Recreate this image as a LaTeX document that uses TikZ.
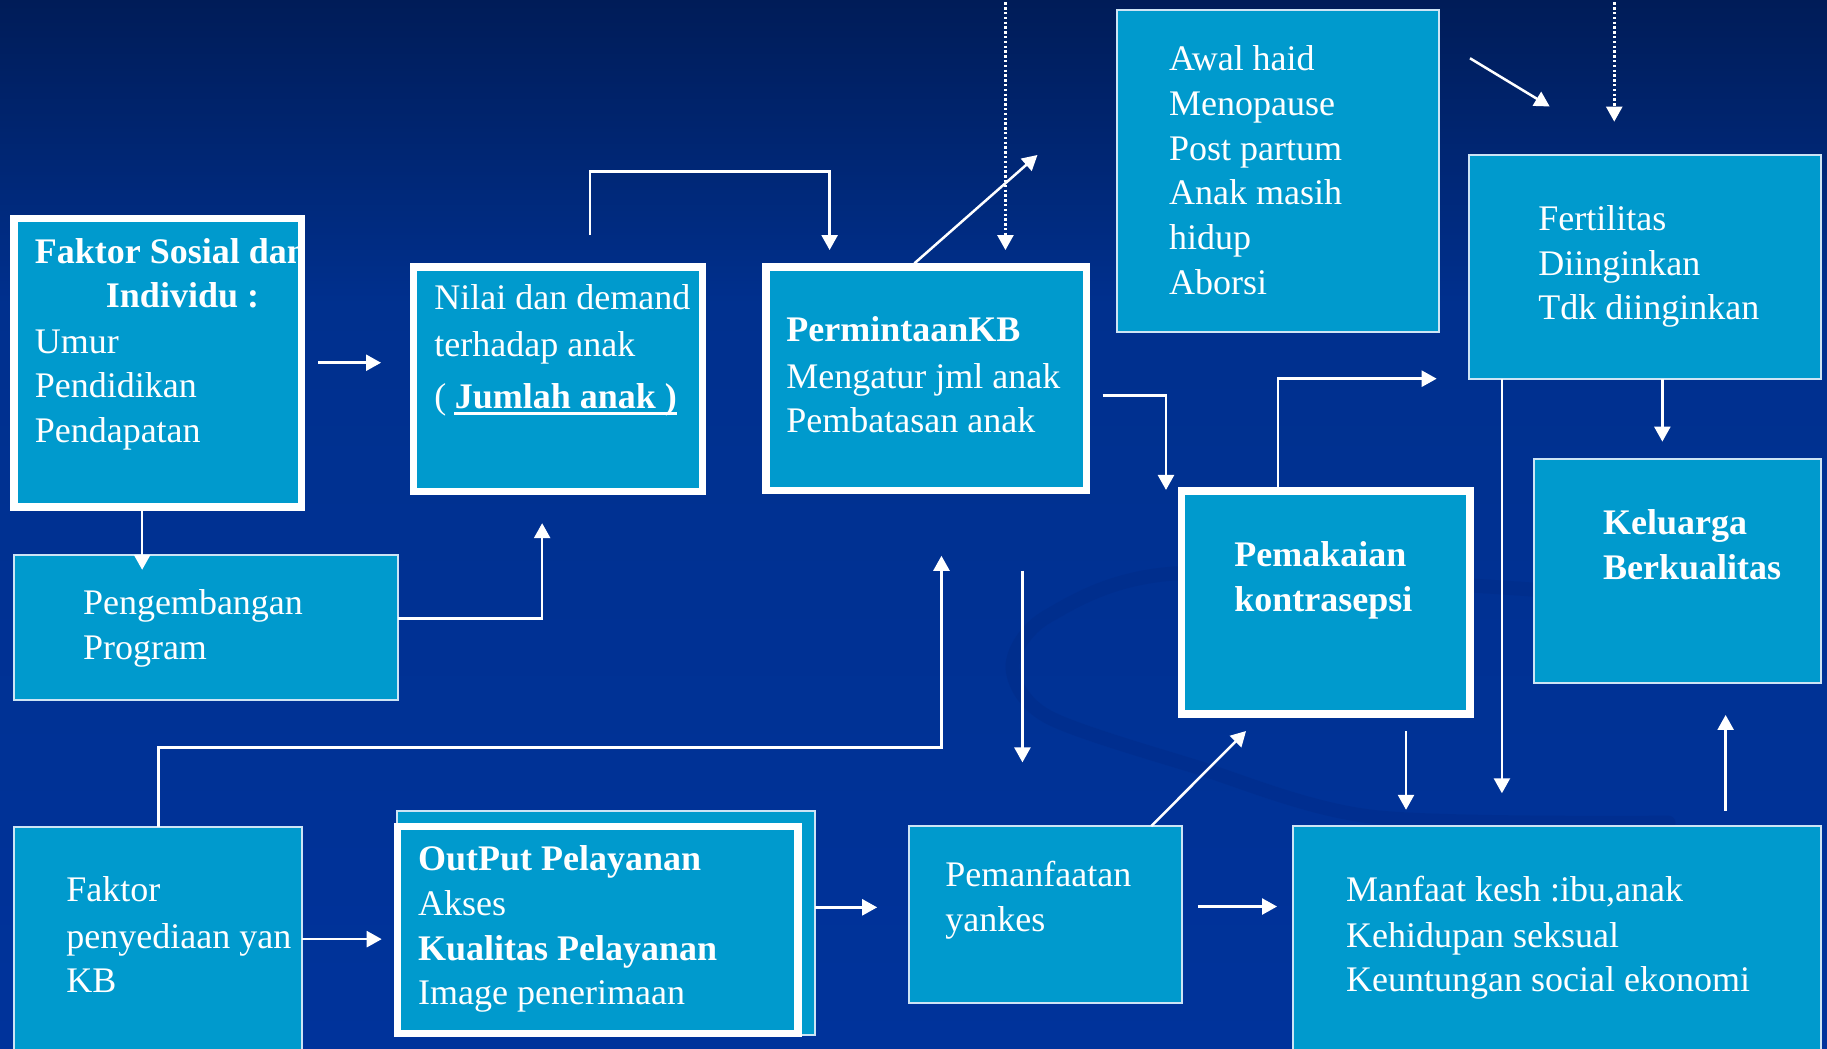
\documentclass[tikz,border=0pt]{standalone}
\usepackage{fontspec}
\setmainfont{Liberation Serif}
\usetikzlibrary{arrows.meta,calc}
\definecolor{bgtop}{RGB}{0,28,88}
\definecolor{bgmid}{RGB}{0,48,142}
\definecolor{bgbot}{RGB}{0,51,155}
\definecolor{boxfill}{RGB}{0,154,205}
\definecolor{thinline}{RGB}{205,228,245}
\definecolor{swooshc}{RGB}{0,36,120}
\begin{document}
\begin{tikzpicture}[x=0.5826pt,y=-0.5826pt,
  boxbase/.style={fill=boxfill, anchor=north west, inner sep=0pt, outer sep=0pt},
  thickbox/.style={boxbase, draw=white, line width=3.75pt},
  thinbox/.style={boxbase, draw=thinline, line width=1pt},
  sz/.style 2 args={minimum width=#1*0.5826pt, minimum height=#2*0.5826pt},
  txt/.style={text=white, anchor=base west, inner sep=0pt, font=\fontsize{18}{22.4}\selectfont},
  btxt/.style={txt, font=\fontsize{18}{22.4}\selectfont\bfseries},
  conn/.style={draw=white, line width=1.25pt},
  arr/.style={conn, -{Triangle[length=7.5pt,width=8pt]}},
  dotarr/.style={arr, dash pattern=on 1.2pt off 1.2pt},
]
\useasboundingbox (0,0) rectangle (1568,900);
\clip (0,0) rectangle (1568,900);
% background
\shade[top color=bgtop, bottom color=bgmid] (0,0) rectangle (1568,260);
\shade[top color=bgmid, bottom color=bgbot] (0,259) rectangle (1568,900);
\draw[swooshc, line width=7pt, opacity=0.22, line cap=round]
  plot[smooth] coordinates {(1316,506) (1011,492) (899,529) (869,572) (899,615) (1026,658) (1178,701) (1432,706)};

% boxes
\node[boxbase, sz={246.6}{247.6}] (fs) at (12,187.7) {};
\node[thickbox, sz={247.7}{192.6}] (nl) at (355,229) {};
\node[thickbox, sz={275.1}{192}] (pm) at (657.2,229) {};
\node[thickbox, sz={247.3}{191.6}] (pk) at (1014.2,421.2) {};
\node[thinbox, sz={276.4}{276.4}] (aw) at (958.6,8.6) {};
\node[thinbox, sz={302}{192}] (ft) at (1261,133) {};
\node[thinbox, sz={246}{192}] (kl) at (1316.5,394) {};
\node[thinbox, sz={330.2}{124.4}] (pg) at (11.8,476.3) {};
\node[thinbox, sz={247.8}{200}] (fp) at (11.8,709.5) {};
\node[thinbox, sz={358.8}{192}] (opb) at (340.7,696) {};
\node[thickbox, sz={343.8}{177.3}] (op) at (341.2,709.5) {};
\node[thinbox, sz={234.6}{151.5}] (pf) at (780,709) {};
\node[thinbox, sz={453}{200}] (mf) at (1110,709) {};

% Faktor Sosial text (clipped by its box)
\begin{scope}
\clip (fs.north west) rectangle (fs.south east);
\node[btxt] (fs1) at (29.5,226) {Faktor Sosial dan};
\node[btxt] (fs2) at (90.6,264) {Individu :};
\node[txt] (fs3) at (29.5,303) {Umur};
\node[txt] (fs4) at (29.5,341) {Pendidikan};
\node[txt] (fs5) at (29.5,380) {Pendapatan};
\end{scope}
\draw[white, line width=3.75pt] (fs.north west) rectangle (fs.south east);

% Nilai
\node[txt] (nl1) at (372.5,266) {Nilai dan demand};
\node[txt] (nl2) at (372.5,305.6) {terhadap anak};
\node[txt] (nl3a) at (372.5,351) {(};
\node[btxt] (nl3b) at (390,351) {Jumlah anak )};
\draw[white, line width=1.2pt] ([yshift=-2.2pt]nl3b.base west) -- ([yshift=-2.2pt]nl3b.base east);

% Permintaan
\node[btxt] (pm1) at (674.6,293) {PermintaanKB};
\node[txt] (pm2) at (674.6,333) {Mengatur jml anak};
\node[txt] (pm3) at (674.6,371.5) {Pembatasan anak};

% Awal haid
\node[txt] (aw1) at (1003,60.7) {Awal haid};
\node[txt] (aw2) at (1003,99.1) {Menopause};
\node[txt] (aw3) at (1003,137.5) {Post partum};
\node[txt] (aw4) at (1003,175.9) {Anak masih};
\node[txt] (aw5) at (1003,214.3) {hidup};
\node[txt] (aw6) at (1003,252.7) {Aborsi};

% Fertilitas
\node[txt] (ft1) at (1320,197.8) {Fertilitas};
\node[txt] (ft2) at (1320,236.4) {Diinginkan};
\node[txt] (ft3) at (1320,274.6) {Tdk diinginkan};

% Keluarga
\node[btxt] (kl1) at (1375.5,459) {Keluarga};
\node[btxt] (kl2) at (1375.5,497) {Berkualitas};

% Pemakaian
\node[btxt] (pk1) at (1059,486.3) {Pemakaian};
\node[btxt] (pk2) at (1059,525) {kontrasepsi};

% Pengembangan
\node[txt] (pg1) at (70.9,527.8) {Pengembangan};
\node[txt] (pg2) at (70.9,566.4) {Program};

% Faktor penyediaan
\node[txt] (fp1) at (56.7,774) {Faktor};
\node[txt] (fp2) at (56.7,813.8) {penyediaan yan};
\node[txt] (fp3) at (56.7,851.6) {KB};

% OutPut
\node[btxt] (op1) at (358.5,747.5) {OutPut Pelayanan};
\node[txt] (op2) at (358.5,786) {Akses};
\node[btxt] (op3) at (358.5,824.7) {Kualitas Pelayanan};
\node[txt] (op4) at (358.5,861.7) {Image penerimaan};

% Pemanfaatan
\node[txt] (pf1) at (811,761) {Pemanfaatan};
\node[txt] (pf2) at (811,799.6) {yankes};

% Manfaat
\node[txt] (mf1) at (1155,773.9) {Manfaat kesh :ibu,anak};
\node[txt] (mf2) at (1155,812.9) {Kehidupan seksual};
\node[txt] (mf3) at (1155,851) {Keuntungan social ekonomi};

% connector end points
\coordinate (a1) at (273,311.3);   \coordinate (a2) at (327,311.3);
\coordinate (b1) at (122,437);     \coordinate (b2) at (122,489);
\coordinate (c1) at (342,531);     \coordinate (c2) at (465.3,531);  \coordinate (c3) at (465.3,449);
\coordinate (d1) at (506.4,201.7); \coordinate (d2) at (506.4,147.3); \coordinate (d3) at (712,147.3); \coordinate (d4) at (712,214.6);
\coordinate (e1) at (784.8,226);   \coordinate (e2) at (890.4,133);
\coordinate (f1) at (862.9,-2);    \coordinate (f2) at (862.9,214.6);
\coordinate (g1) at (1385.4,-2);   \coordinate (g2) at (1385.4,104.4);
\coordinate (h1) at (1261.6,50);   \coordinate (h2) at (1330,91.4);
\coordinate (i1) at (946.3,339.3); \coordinate (i2) at (1000.7,339.3); \coordinate (i3) at (1000.7,420.5);
\coordinate (j1) at (1097,421);    \coordinate (j2) at (1097,325);   \coordinate (j3) at (1233,325);
\coordinate (k1) at (1426.7,325.4); \coordinate (k2) at (1426.7,379);
\coordinate (l1) at (1289,325);    \coordinate (l2) at (1289,680.8);
\coordinate (m1) at (1206.7,627.4); \coordinate (m2) at (1206.7,695);
\coordinate (n1) at (1481,696);    \coordinate (n2) at (1481,613.6);
\coordinate (o1) at (136,709.5);   \coordinate (o2) at (136,641.7);  \coordinate (o3) at (808,641.7); \coordinate (o4) at (808,477);
\coordinate (p1) at (877.5,489.8); \coordinate (p2) at (877.5,654.3);
\coordinate (q1) at (259.6,806);   \coordinate (q2) at (327.6,806);
\coordinate (r1) at (699.5,778.7); \coordinate (r2) at (752.8,778.7);
\coordinate (s1) at (988,709);     \coordinate (s2) at (1069.4,627.4);
\coordinate (t1) at (1028,778);    \coordinate (t2) at (1096,778);

% connectors
\draw[arr] (a1) -- (a2);
\draw[arr] (b1) -- (b2);
\draw[arr] (c1) -- (c2) -- (c3);
\draw[arr] (d1) -- (d2) -- (d3) -- (d4);
\draw[arr] (e1) -- (e2);
\draw[dotarr] (f1) -- (f2);
\draw[dotarr] (g1) -- (g2);
\draw[arr] (h1) -- (h2);
\draw[arr] (i1) -- (i2) -- (i3);
\draw[arr] (j1) -- (j2) -- (j3);
\draw[arr] (k1) -- (k2);
\draw[arr] (l1) -- (l2);
\draw[arr] (m1) -- (m2);
\draw[arr] (n1) -- (n2);
\draw[arr] (o1) -- (o2) -- (o3) -- (o4);
\draw[arr] (p1) -- (p2);
\draw[arr] (q1) -- (q2);
\draw[arr] (r1) -- (r2);
\draw[arr] (s1) -- (s2);
\draw[arr] (t1) -- (t2);
\end{tikzpicture}
\end{document}
